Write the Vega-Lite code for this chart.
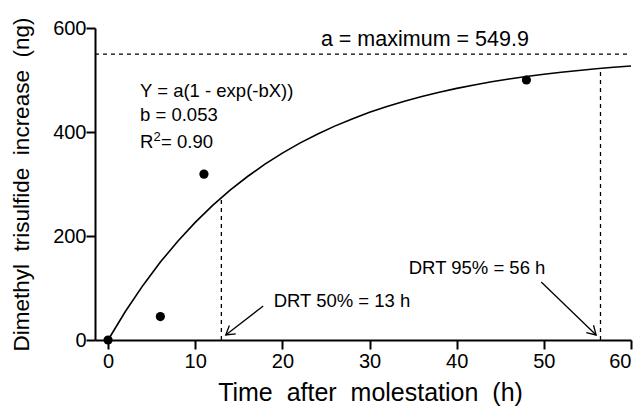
{
  "$schema": "https://vega.github.io/schema/vega-lite/v6.json",
  "width": 536,
  "height": 312,
  "autosize": "none",
  "padding": {"left": 95, "top": 28, "right": 13, "bottom": 68},
  "background": "white",
  "config": {
    "view": {"stroke": null},
    "font": "Liberation Sans",
    "axis": {"grid": false, "domainColor": "black", "domainWidth": 2, "tickColor": "black", "tickWidth": 2, "labelColor": "black", "titleColor": "black", "labelFont": "Liberation Sans", "titleFont": "Liberation Sans", "titleFontWeight": "normal", "labelFontSize": 20, "tickSize": 9, "ticks": true}
  },
  "datasets": {
    "curve": [
      {"t": 0, "v": 0}, {"t": 2, "v": 55.3}, {"t": 4, "v": 105.0}, {"t": 6, "v": 149.8}, {"t": 8, "v": 190.0},
      {"t": 10, "v": 226.2}, {"t": 12, "v": 258.8}, {"t": 14, "v": 288.0}, {"t": 16, "v": 314.4}, {"t": 18, "v": 338.1},
      {"t": 20, "v": 359.4}, {"t": 22, "v": 378.6}, {"t": 24, "v": 395.8}, {"t": 26, "v": 411.3}, {"t": 28, "v": 425.2},
      {"t": 30, "v": 437.8}, {"t": 32, "v": 449.0}, {"t": 34, "v": 459.2}, {"t": 36, "v": 468.3}, {"t": 38, "v": 476.5},
      {"t": 40, "v": 483.9}, {"t": 42, "v": 490.5}, {"t": 44, "v": 496.5}, {"t": 46, "v": 501.9}, {"t": 48, "v": 506.7},
      {"t": 50, "v": 511.0}, {"t": 52, "v": 515.0}, {"t": 54, "v": 518.4}, {"t": 56, "v": 521.6}, {"t": 58, "v": 524.5},
      {"t": 60, "v": 527.0}
    ],
    "obs": [
      {"t": 0, "v": 0}, {"t": 6, "v": 45}, {"t": 11, "v": 319}, {"t": 48, "v": 500}
    ],
    "vlines": [
      {"t": 13, "v0": 0, "v1": 274},
      {"t": 56.5, "v0": 0, "v1": 522}
    ],
    "arrows": [
      {"t0": 17.8, "v0": 65.4, "t1": 13.5, "v1": 9.6},
      {"t0": 49.7, "v0": 111.5, "t1": 56.0, "v1": 9.6}
    ],
    "notes": [
      {"t": 3.67, "v": 466.7, "label": "Y = a(1 - exp(-bX))"},
      {"t": 3.67, "v": 421, "label": "b = 0.053"},
      {"t": 3.67, "v": 368.6, "label": "R"},
      {"t": 19.0, "v": 64, "label": "DRT 50% = 13 h"},
      {"t": 34.5, "v": 127, "label": "DRT 95% = 56 h"}
    ]
  },
  "layer": [
    {
      "data": {"name": "curve"},
      "mark": {"type": "line", "color": "black", "strokeWidth": 1.6},
      "encoding": {
        "x": {"field": "t", "type": "quantitative", "scale": {"domain": [-1.5, 60], "nice": false, "zero": false},
              "axis": {"values": [0, 10, 20, 30, 40, 50, 60], "title": "Time\u00a0 after\u00a0 molestation\u00a0 (h)", "titleFontSize": 25, "titlePadding": 9, "labelPadding": 2, "titleX": 275,
                       "encode": {"ticks": {"update": {"y2": {"value": -9}}}}}},
        "y": {"field": "v", "type": "quantitative", "scale": {"domain": [0, 600], "nice": false},
              "axis": {"values": [0, 200, 400, 600], "title": "Dimethyl\u00a0 trisulfide\u00a0 increase\u00a0 (ng)", "titleFontSize": 22.5, "titlePadding": 19, "labelPadding": 0,
                       "encode": {"ticks": {"update": {"x2": {"value": 9}}}}}}
      }
    },
    {
      "data": {"values": [{"a": 549.9}]},
      "mark": {"type": "rule", "color": "black", "strokeWidth": 1.3, "strokeDash": [4, 4]},
      "encoding": {
        "y": {"field": "a", "type": "quantitative"},
        "x": {"datum": -1.5, "type": "quantitative"},
        "x2": {"datum": 60}
      }
    },
    {
      "data": {"name": "vlines"},
      "mark": {"type": "rule", "color": "black", "strokeWidth": 1.3, "strokeDash": [4, 4]},
      "encoding": {
        "x": {"field": "t", "type": "quantitative"},
        "y": {"field": "v0", "type": "quantitative"},
        "y2": {"field": "v1"}
      }
    },
    {
      "data": {"name": "arrows"},
      "mark": {"type": "rule", "color": "black", "strokeWidth": 1.3},
      "encoding": {
        "x": {"field": "t0", "type": "quantitative"},
        "y": {"field": "v0", "type": "quantitative"},
        "x2": {"field": "t1"},
        "y2": {"field": "v1"}
      }
    },
    {
      "data": {"values": [{"t": 13.5, "v": 9.6}]},
      "mark": {"type": "point", "shape": "M -1 -0.6 L 0 0 L -1 0.6", "filled": false, "color": "black", "strokeWidth": 1.3, "size": 300, "angle": 142, "opacity": 1},
      "encoding": {
        "x": {"field": "t", "type": "quantitative"},
        "y": {"field": "v", "type": "quantitative"}
      }
    },
    {
      "data": {"values": [{"t": 56.0, "v": 9.6}]},
      "mark": {"type": "point", "shape": "M -1 -0.6 L 0 0 L -1 0.6", "filled": false, "color": "black", "strokeWidth": 1.3, "size": 300, "angle": 44, "opacity": 1},
      "encoding": {
        "x": {"field": "t", "type": "quantitative"},
        "y": {"field": "v", "type": "quantitative"}
      }
    },
    {
      "data": {"name": "obs"},
      "mark": {"type": "circle", "color": "black", "size": 85, "opacity": 1},
      "encoding": {
        "x": {"field": "t", "type": "quantitative"},
        "y": {"field": "v", "type": "quantitative"}
      }
    },
    {
      "data": {"name": "notes"},
      "mark": {"type": "text", "align": "left", "baseline": "alphabetic", "fontSize": 18.5, "color": "black", "font": "Liberation Sans"},
      "encoding": {
        "x": {"field": "t", "type": "quantitative"},
        "y": {"field": "v", "type": "quantitative"},
        "text": {"field": "label"}
      }
    },
    {
      "data": {"values": [{"t": 3.67, "v": 368.6, "label": "2"}]},
      "mark": {"type": "text", "align": "left", "baseline": "alphabetic", "fontSize": 13, "dx": 13.4, "dy": -7, "color": "black", "font": "Liberation Sans"},
      "encoding": {
        "x": {"field": "t", "type": "quantitative"},
        "y": {"field": "v", "type": "quantitative"},
        "text": {"field": "label"}
      }
    },
    {
      "data": {"values": [{"t": 3.67, "v": 368.6, "label": "= 0.90"}]},
      "mark": {"type": "text", "align": "left", "baseline": "alphabetic", "fontSize": 18.5, "dx": 21, "color": "black", "font": "Liberation Sans"},
      "encoding": {
        "x": {"field": "t", "type": "quantitative"},
        "y": {"field": "v", "type": "quantitative"},
        "text": {"field": "label"}
      }
    },
    {
      "data": {"values": [{"t": 36.35, "v": 565, "label": "a = maximum = 549.9"}]},
      "mark": {"type": "text", "align": "center", "baseline": "alphabetic", "fontSize": 21.5, "color": "black", "font": "Liberation Sans"},
      "encoding": {
        "x": {"field": "t", "type": "quantitative"},
        "y": {"field": "v", "type": "quantitative"},
        "text": {"field": "label"}
      }
    }
  ]
}
